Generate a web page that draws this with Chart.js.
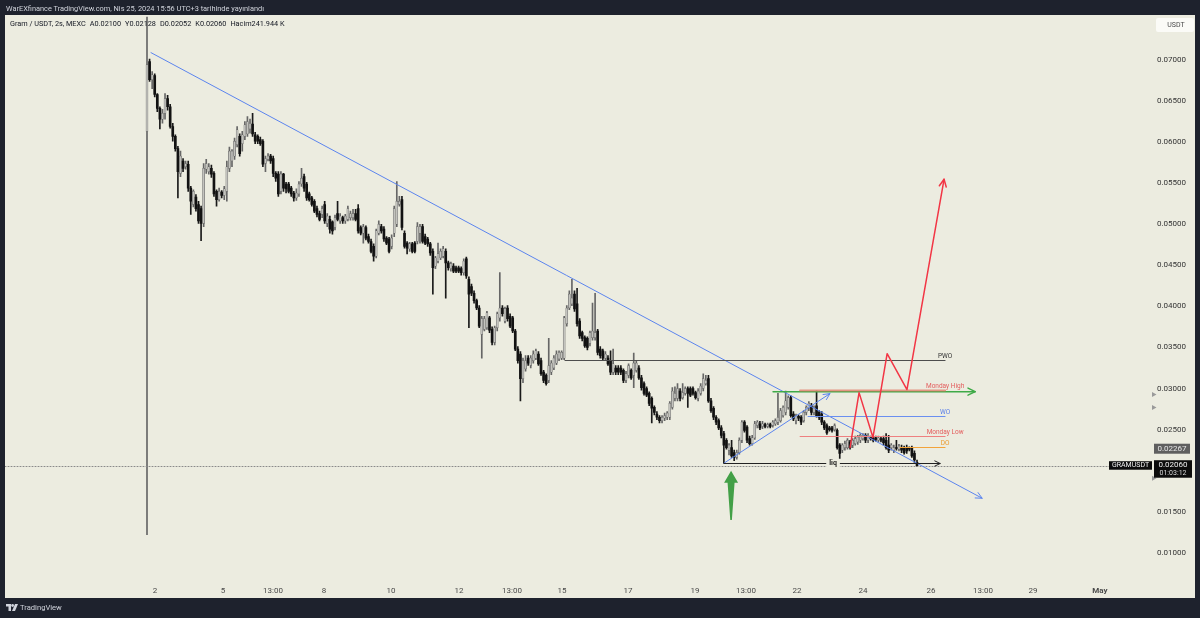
<!DOCTYPE html>
<html><head><meta charset="utf-8">
<script src="https://cdn.jsdelivr.net/npm/chart.js@4.4.1/dist/chart.umd.min.js"></script>
<style>
html,body{margin:0;padding:0;background:#1e222d;width:1200px;height:618px;overflow:hidden;font-family:Roboto,'Liberation Sans',sans-serif;}
#pane{position:absolute;left:5px;top:15px;width:1190px;height:583px;background:#ecece0;}
#wrap{position:absolute;left:0;top:0;width:1200px;height:618px;}
#hdr{position:absolute;left:6px;top:1px;height:15px;line-height:15px;font-size:7.4px;color:#d1d4dc;white-space:nowrap;}
#leg{position:absolute;left:10px;top:18px;line-height:12px;font-size:7.3px;color:#131722;white-space:nowrap;}
#leg span{margin-right:4px;}
#tv{position:absolute;left:6px;top:602px;height:12px;line-height:12px;font-size:7.6px;color:#d1d4dc;white-space:nowrap;}
#tv svg{vertical-align:-1px;margin-right:2px;}
</style></head><body>
<div id="pane"></div>
<div id="wrap"><canvas id="c" width="1200" height="618"></canvas></div>
<div id="hdr">WarEXfinance TradingView.com, Nis 25, 2024 15:56 UTC+3 tarihinde yayınlandı</div>
<div id="leg"><span>Gram / USDT, 2s, MEXC</span><span>A0.02100</span><span>Y0.02128</span><span>D0.02052</span><span>K0.02060</span><span>Hacim241.944 K</span></div>
<div id="tv"><svg width="12" height="7" viewBox="0 0 12 7"><path d="M0 0h5v7h-2.5v-4.5h-2.5z" fill="#d1d4dc"/><circle cx="6.6" cy="1.5" r="1.4" fill="#d1d4dc"/><path d="M9 0h3l-3 7h-3z" fill="#d1d4dc"/></svg>TradingView</div>
<script>
// ---- candle data (2h candles, Gram / USDT, MEXC) ----
const open = [
0.0613,0.0698,0.0676,0.0681,0.0658,0.0641,0.0628,0.0635,0.0653,0.0643,
0.0619,0.0607,0.0592,0.0562,0.0577,0.0570,0.0573,0.0544,0.0524,0.0533,
0.0524,0.0519,0.0501,0.0567,0.0564,0.0568,0.0562,0.0540,0.0530,0.0539,
0.0535,0.0540,0.0568,0.0577,0.0583,0.0597,0.0607,0.0598,0.0607,0.0610,
0.0616,0.0622,0.0609,0.0607,0.0603,0.0601,0.0574,0.0579,0.0583,0.0580,
0.0562,0.0561,0.0540,0.0561,0.0549,0.0549,0.0544,0.0538,0.0532,0.0537,
0.0549,0.0558,0.0549,0.0537,0.0532,0.0528,0.0519,0.0513,0.0512,0.0524,
0.0501,0.0506,0.0503,0.0496,0.0513,0.0504,0.0508,0.0504,0.0506,0.0508,
0.0508,0.0513,0.0519,0.0496,0.0489,0.0496,0.0485,0.0479,0.0473,0.0461,
0.0489,0.0497,0.0494,0.0483,0.0482,0.0473,0.0489,0.0500,0.0524,0.0530,
0.0489,0.0477,0.0470,0.0476,0.0477,0.0479,0.0489,0.0497,0.0485,0.0482,
0.0476,0.0467,0.0449,0.0455,0.0459,0.0461,0.0467,0.0453,0.0446,0.0449,
0.0447,0.0447,0.0446,0.0441,0.0458,0.0433,0.0424,0.0416,0.0407,0.0398,
0.0366,0.0372,0.0374,0.0386,0.0372,0.0356,0.0374,0.0386,0.0398,0.0382,
0.0398,0.0388,0.0386,0.0370,0.0348,0.0342,0.0312,0.0324,0.0337,0.0328,
0.0334,0.0337,0.0342,0.0334,0.0320,0.0316,0.0310,0.0320,0.0325,0.0331,
0.0336,0.0337,0.0337,0.0379,0.0398,0.0403,0.0415,0.0403,0.0382,0.0368,
0.0362,0.0361,0.0355,0.0362,0.0362,0.0370,0.0348,0.0346,0.0337,0.0337,
0.0334,0.0320,0.0325,0.0325,0.0325,0.0322,0.0310,0.0316,0.0322,0.0316,
0.0322,0.0325,0.0313,0.0306,0.0300,0.0294,0.0288,0.0277,0.0269,0.0265,
0.0261,0.0264,0.0265,0.0265,0.0277,0.0288,0.0288,0.0297,0.0289,0.0294,
0.0300,0.0300,0.0300,0.0295,0.0288,0.0294,0.0300,0.0306,0.0312,0.0285,
0.0276,0.0265,0.0261,0.0252,0.0245,0.0237,0.0225,0.0228,0.0222,0.0216,
0.0222,0.0237,0.0259,0.0253,0.0239,0.0233,0.0240,0.0255,0.0257,0.0254,
0.0256,0.0254,0.0256,0.0255,0.0257,0.0259,0.0261,0.0267,0.0271,0.0277,
0.0289,0.0269,0.0261,0.0266,0.0265,0.0261,0.0271,0.0276,0.0279,0.0271,
0.0279,0.0271,0.0269,0.0259,0.0255,0.0252,0.0252,0.0250,0.0249,0.0231,
0.0225,0.0228,0.0228,0.0235,0.0231,0.0233,0.0235,0.0237,0.0239,0.0243,
0.0237,0.0240,0.0240,0.0240,0.0237,0.0239,0.0239,0.0237,0.0231,0.0228,
0.0225,0.0228,0.0226,0.0228,0.0228,0.0228,0.0227,0.0228,0.0221,0.0210];
const high = [
0.0900,0.0701,0.0686,0.0683,0.0659,0.0643,0.0640,0.0659,0.0657,0.0646,
0.0623,0.0609,0.0595,0.0589,0.0580,0.0577,0.0577,0.0546,0.0542,0.0536,
0.0528,0.0522,0.0574,0.0579,0.0574,0.0572,0.0564,0.0542,0.0544,0.0541,
0.0546,0.0577,0.0594,0.0591,0.0605,0.0619,0.0610,0.0613,0.0625,0.0631,
0.0628,0.0635,0.0612,0.0609,0.0606,0.0603,0.0583,0.0586,0.0585,0.0583,
0.0564,0.0564,0.0564,0.0562,0.0551,0.0551,0.0546,0.0540,0.0543,0.0552,
0.0568,0.0561,0.0551,0.0539,0.0534,0.0530,0.0522,0.0516,0.0522,0.0528,
0.0513,0.0510,0.0504,0.0511,0.0528,0.0513,0.0510,0.0512,0.0522,0.0516,
0.0518,0.0518,0.0524,0.0498,0.0500,0.0498,0.0488,0.0482,0.0476,0.0494,
0.0504,0.0500,0.0497,0.0485,0.0484,0.0487,0.0522,0.0552,0.0534,0.0534,
0.0492,0.0479,0.0478,0.0478,0.0479,0.0502,0.0500,0.0500,0.0488,0.0484,
0.0478,0.0470,0.0461,0.0477,0.0470,0.0473,0.0470,0.0455,0.0454,0.0452,
0.0449,0.0449,0.0448,0.0458,0.0460,0.0436,0.0427,0.0419,0.0409,0.0401,
0.0388,0.0388,0.0394,0.0388,0.0375,0.0376,0.0393,0.0441,0.0401,0.0399,
0.0401,0.0391,0.0388,0.0372,0.0351,0.0345,0.0337,0.0340,0.0340,0.0340,
0.0346,0.0348,0.0345,0.0337,0.0322,0.0318,0.0361,0.0334,0.0340,0.0346,
0.0346,0.0346,0.0388,0.0401,0.0419,0.0433,0.0419,0.0422,0.0385,0.0370,
0.0364,0.0363,0.0370,0.0404,0.0416,0.0372,0.0351,0.0348,0.0345,0.0340,
0.0346,0.0348,0.0328,0.0328,0.0328,0.0324,0.0321,0.0330,0.0324,0.0343,
0.0334,0.0328,0.0316,0.0308,0.0302,0.0296,0.0290,0.0279,0.0272,0.0267,
0.0267,0.0270,0.0272,0.0284,0.0301,0.0302,0.0306,0.0300,0.0306,0.0302,
0.0302,0.0302,0.0302,0.0297,0.0300,0.0306,0.0318,0.0316,0.0316,0.0288,
0.0278,0.0267,0.0263,0.0255,0.0248,0.0239,0.0233,0.0237,0.0225,0.0225,
0.0240,0.0261,0.0261,0.0255,0.0242,0.0243,0.0260,0.0261,0.0260,0.0260,
0.0258,0.0258,0.0258,0.0261,0.0263,0.0294,0.0276,0.0279,0.0297,0.0291,
0.0291,0.0272,0.0269,0.0268,0.0267,0.0273,0.0279,0.0284,0.0282,0.0279,
0.0297,0.0273,0.0272,0.0261,0.0257,0.0254,0.0254,0.0257,0.0251,0.0233,
0.0233,0.0236,0.0239,0.0237,0.0239,0.0242,0.0243,0.0245,0.0245,0.0245,
0.0245,0.0242,0.0242,0.0242,0.0242,0.0241,0.0242,0.0245,0.0243,0.0233,
0.0231,0.0237,0.0232,0.0231,0.0230,0.0231,0.0229,0.0230,0.0224,0.02128];
const low = [
0.0122,0.0674,0.0665,0.0655,0.0637,0.0616,0.0623,0.0628,0.0639,0.0617,
0.0601,0.0589,0.0532,0.0558,0.0564,0.0567,0.0540,0.0512,0.0521,0.0516,
0.0501,0.0480,0.0497,0.0562,0.0561,0.0557,0.0534,0.0522,0.0528,0.0532,
0.0530,0.0528,0.0564,0.0570,0.0579,0.0594,0.0583,0.0589,0.0603,0.0607,
0.0611,0.0607,0.0598,0.0598,0.0596,0.0570,0.0564,0.0577,0.0574,0.0558,
0.0552,0.0534,0.0537,0.0540,0.0538,0.0538,0.0534,0.0528,0.0529,0.0534,
0.0546,0.0540,0.0529,0.0528,0.0522,0.0514,0.0509,0.0504,0.0508,0.0501,
0.0497,0.0489,0.0488,0.0493,0.0504,0.0501,0.0501,0.0501,0.0504,0.0505,
0.0505,0.0504,0.0489,0.0487,0.0477,0.0481,0.0477,0.0465,0.0455,0.0459,
0.0487,0.0489,0.0479,0.0475,0.0465,0.0470,0.0485,0.0497,0.0522,0.0493,
0.0471,0.0464,0.0467,0.0465,0.0465,0.0476,0.0477,0.0477,0.0475,0.0473,
0.0462,0.0415,0.0446,0.0453,0.0457,0.0459,0.0410,0.0444,0.0443,0.0441,
0.0441,0.0441,0.0438,0.0438,0.0434,0.0374,0.0413,0.0404,0.0396,0.0374,
0.0337,0.0370,0.0372,0.0368,0.0353,0.0353,0.0370,0.0382,0.0388,0.0380,
0.0382,0.0374,0.0368,0.0346,0.0331,0.0285,0.0307,0.0321,0.0328,0.0325,
0.0331,0.0335,0.0328,0.0316,0.0307,0.0304,0.0307,0.0317,0.0323,0.0329,
0.0334,0.0335,0.0335,0.0376,0.0396,0.0401,0.0394,0.0376,0.0361,0.0358,
0.0350,0.0347,0.0352,0.0359,0.0359,0.0341,0.0337,0.0335,0.0335,0.0328,
0.0317,0.0317,0.0317,0.0317,0.0317,0.0307,0.0307,0.0313,0.0311,0.0301,
0.0320,0.0311,0.0298,0.0292,0.0290,0.0279,0.0258,0.0268,0.0262,0.0258,
0.0258,0.0261,0.0262,0.0262,0.0275,0.0285,0.0285,0.0285,0.0287,0.0292,
0.0277,0.0290,0.0292,0.0287,0.0285,0.0292,0.0297,0.0304,0.0283,0.0271,
0.0262,0.0256,0.0250,0.0240,0.0209,0.0226,0.0219,0.0216,0.0212,0.0214,
0.0220,0.0234,0.0247,0.0234,0.0231,0.0231,0.0238,0.0252,0.0250,0.0251,
0.0252,0.0252,0.0252,0.0253,0.0255,0.0256,0.0259,0.0265,0.0268,0.0275,
0.0265,0.0261,0.0257,0.0261,0.0256,0.0259,0.0268,0.0273,0.0268,0.0268,
0.0265,0.0262,0.0256,0.0250,0.0244,0.0248,0.0247,0.0248,0.0226,0.0215,
0.0222,0.0225,0.0226,0.0226,0.0228,0.0231,0.0232,0.0234,0.0237,0.0234,
0.0234,0.0237,0.0235,0.0236,0.0235,0.0235,0.0231,0.0226,0.0222,0.0225,
0.0222,0.0225,0.0224,0.0222,0.0220,0.0221,0.0224,0.0216,0.0210,0.02052];
const close = [
0.0694,0.0676,0.0682,0.0658,0.0641,0.0628,0.0635,0.0653,0.0643,0.0619,
0.0607,0.0592,0.0564,0.0583,0.0568,0.0574,0.0544,0.0528,0.0540,0.0519,
0.0504,0.0501,0.0568,0.0574,0.0570,0.0561,0.0537,0.0530,0.0540,0.0535,
0.0543,0.0570,0.0589,0.0589,0.0601,0.0615,0.0586,0.0609,0.0621,0.0625,
0.0623,0.0610,0.0601,0.0601,0.0598,0.0573,0.0580,0.0583,0.0577,0.0562,
0.0556,0.0537,0.0561,0.0544,0.0543,0.0540,0.0537,0.0532,0.0538,0.0549,
0.0556,0.0544,0.0532,0.0530,0.0524,0.0516,0.0512,0.0506,0.0519,0.0504,
0.0510,0.0494,0.0492,0.0508,0.0506,0.0510,0.0504,0.0510,0.0519,0.0513,
0.0513,0.0506,0.0492,0.0489,0.0497,0.0483,0.0479,0.0467,0.0461,0.0492,
0.0500,0.0492,0.0482,0.0477,0.0467,0.0483,0.0519,0.0528,0.0528,0.0496,
0.0473,0.0471,0.0476,0.0467,0.0467,0.0497,0.0497,0.0479,0.0477,0.0476,
0.0465,0.0447,0.0459,0.0464,0.0467,0.0470,0.0453,0.0447,0.0452,0.0443,
0.0443,0.0443,0.0441,0.0455,0.0437,0.0415,0.0416,0.0407,0.0398,0.0376,
0.0385,0.0385,0.0392,0.0371,0.0356,0.0374,0.0391,0.0398,0.0391,0.0397,
0.0385,0.0376,0.0370,0.0348,0.0334,0.0312,0.0334,0.0334,0.0331,0.0337,
0.0342,0.0346,0.0330,0.0318,0.0310,0.0306,0.0328,0.0331,0.0337,0.0342,
0.0344,0.0344,0.0386,0.0398,0.0415,0.0410,0.0397,0.0379,0.0364,0.0361,
0.0352,0.0350,0.0368,0.0370,0.0368,0.0344,0.0340,0.0337,0.0342,0.0330,
0.0320,0.0330,0.0320,0.0320,0.0320,0.0310,0.0318,0.0328,0.0313,0.0331,
0.0331,0.0313,0.0301,0.0294,0.0292,0.0282,0.0276,0.0271,0.0265,0.0261,
0.0265,0.0267,0.0270,0.0282,0.0297,0.0294,0.0300,0.0288,0.0295,0.0300,
0.0294,0.0292,0.0294,0.0289,0.0297,0.0303,0.0312,0.0310,0.0285,0.0273,
0.0265,0.0259,0.0252,0.0243,0.0231,0.0228,0.0231,0.0218,0.0216,0.0222,
0.0237,0.0259,0.0249,0.0237,0.0233,0.0240,0.0257,0.0259,0.0252,0.0257,
0.0254,0.0256,0.0254,0.0259,0.0261,0.0265,0.0273,0.0277,0.0285,0.0289,
0.0267,0.0263,0.0267,0.0264,0.0259,0.0271,0.0277,0.0282,0.0271,0.0277,
0.0267,0.0265,0.0259,0.0252,0.0246,0.0250,0.0249,0.0255,0.0228,0.0221,
0.0231,0.0233,0.0237,0.0228,0.0237,0.0239,0.0241,0.0243,0.0243,0.0237,
0.0243,0.0239,0.0237,0.0238,0.0240,0.0237,0.0234,0.0228,0.0225,0.0231,
0.0228,0.0227,0.0230,0.0225,0.0222,0.0224,0.0226,0.0218,0.0213,0.0206];

// ---- axis ticks (x in candle-index units) ----
const xTickLabels = ['2','5','13:00','8','10','12','13:00','15','17','19','13:00','22','24','26','13:00','29','May'];
const xTickPos = [3.11,29.51,48.93,68.73,94.75,121.15,141.73,161.15,186.77,212.79,232.59,252.40,278.02,304.43,324.62,344.04,370.05];
const xRange = [-55.14, 387.53];
const yTicks = [0.07,0.065,0.06,0.055,0.05,0.045,0.04,0.035,0.03,0.025,0.02,0.015,0.01];
const yRange = [0.006687, 0.075255];

// ---- drawings (candle index, price) ----
const downTrend = [[1.55, 0.07089], [324.3, 0.01664]];
const upTrend = [[224, 0.0209], [265.2, 0.02938]];
const levelNames = ['PWO','Monday High','WO','Monday Low','DO'];
const levelPrices = [0.03351, 0.02987, 0.02671, 0.02416, 0.02283];
const levelStart = [162.3, 253.6, 256.7, 253.6, 292.4];
const levelEnd = 309.9;
const mondayArrow = {from: 243.1, to: 321.6, price: 0.02962};
const liqLine = {from: 224, to: 308, price: 0.0209, labelAt: 266.4, text: 'liq'};
const zigIdx = [273.0, 276.5, 281.9, 287.4, 295.1, 309.5];
const zigPrice = [0.02283, 0.02950, 0.02404, 0.03424, 0.02987, 0.05547];
const greenArrow = {at: 226.8, tip: 0.0200, tail: 0.0140};
const markPrice = 0.02267;
const sideMarks = [0.02926, 0.02768, 0.01906];
const symbol = 'GRAMUSDT', countdown = '01:03:12';

const idx = open.map((_, i) => i);
const isUp = idx.map(i => close[i] >= open[i]);

const levelColor = {'PWO':'#4d4d4d','Monday High':'rgba(226,120,100,0.75)','WO':'#6a8ff0','Monday Low':'#ee8080','DO':'#f2a33a'};
const levelText = {'PWO':'#333333','Monday High':'#e35d5d','WO':'#5a7fe8','Monday Low':'#e35d5d','DO':'#eb9a2c'};

function seg(ctx,x1,y1,x2,y2){ctx.beginPath();ctx.moveTo(x1,y1);ctx.lineTo(x2,y2);ctx.stroke();}
function head(ctx,x1,y1,x2,y2,s){const a=Math.atan2(y2-y1,x2-x1);ctx.beginPath();ctx.moveTo(x2-s*Math.cos(a-0.45),y2-s*Math.sin(a-0.45));ctx.lineTo(x2,y2);ctx.lineTo(x2-s*Math.cos(a+0.45),y2-s*Math.sin(a+0.45));ctx.stroke();}
const snap = v => Math.round(v) + 0.5;

const drawings = {
  id: 'drawings',
  afterDatasetsDraw(chart) {
    const {ctx, chartArea: a, scales: {x, y}} = chart;
    const X = v => x.getPixelForValue(v), Y = v => y.getPixelForValue(v);
    ctx.save();
    ctx.beginPath(); ctx.rect(a.left, a.top, a.right - a.left, a.bottom - a.top); ctx.clip();
    ctx.lineCap = 'round'; ctx.lineJoin = 'round';
    // last price dotted line
    const yc = snap(Y(close[close.length - 1]));
    ctx.setLineDash([1, 2]); ctx.strokeStyle = '#8a8a8a'; ctx.lineWidth = 1;
    seg(ctx, a.left, yc, a.right, yc); ctx.setLineDash([]);
    // trend lines
    ctx.strokeStyle = '#5b84ee'; ctx.lineWidth = 1;
    let p1 = [X(downTrend[0][0]), Y(downTrend[0][1])], p2 = [X(downTrend[1][0]), Y(downTrend[1][1])];
    seg(ctx, p1[0], p1[1], p2[0], p2[1]); head(ctx, p1[0], p1[1], p2[0], p2[1], 7);
    p1 = [X(upTrend[0][0]), Y(upTrend[0][1])]; p2 = [X(upTrend[1][0]), Y(upTrend[1][1])];
    seg(ctx, p1[0], p1[1], p2[0], p2[1]); head(ctx, p1[0], p1[1], p2[0], p2[1], 7);
    // monday high green arrow
    ctx.strokeStyle = '#3faa48'; ctx.lineWidth = 1.5;
    const ym = Y(mondayArrow.price);
    seg(ctx, X(mondayArrow.from), ym, X(mondayArrow.to), ym); head(ctx, X(mondayArrow.from), ym, X(mondayArrow.to), ym, 8);
    // levels
    ctx.font = '6.5px Roboto'; ctx.textAlign = 'center'; ctx.textBaseline = 'bottom';
    levelNames.forEach((n, i) => {
      const yy = snap(Y(levelPrices[i]));
      ctx.strokeStyle = levelColor[n]; ctx.lineWidth = n === 'Monday High' ? 2 : 1;
      seg(ctx, X(levelStart[i]), yy, X(levelEnd), yy);
      ctx.fillStyle = levelText[n]; ctx.fillText(n, X(levelEnd), yy - 1);
    });
    // liq line
    const yl = snap(Y(liqLine.price));
    ctx.strokeStyle = '#222'; ctx.lineWidth = 1;
    seg(ctx, X(liqLine.from), yl, X(liqLine.to), yl); head(ctx, X(liqLine.from), yl, X(liqLine.to), yl, 6);
    ctx.font = 'bold 7px Roboto'; ctx.textBaseline = 'middle';
    const tw = ctx.measureText(liqLine.text).width;
    ctx.fillStyle = '#ecece0'; ctx.fillRect(X(liqLine.labelAt) - tw / 2 - 3, yl - 4, tw + 6, 8);
    ctx.fillStyle = '#1a1a1a'; ctx.fillText(liqLine.text, X(liqLine.labelAt), yl);
    // red zigzag projection
    ctx.strokeStyle = '#f23645'; ctx.lineWidth = 1.5;
    ctx.beginPath(); zigIdx.forEach((v, i) => { const px = X(v), py = Y(zigPrice[i]); i ? ctx.lineTo(px, py) : ctx.moveTo(px, py); }); ctx.stroke();
    const n = zigIdx.length - 1;
    head(ctx, X(zigIdx[n - 1]), Y(zigPrice[n - 1]), X(zigIdx[n]), Y(zigPrice[n]), 8);
    // green up arrow
    const gx = X(greenArrow.at), gt = Y(greenArrow.tip), gb = Y(greenArrow.tail);
    ctx.fillStyle = '#43a047';
    ctx.beginPath();
    ctx.moveTo(gx, gt); ctx.lineTo(gx + 7, gt + 12); ctx.lineTo(gx + 3.5, gt + 12);
    ctx.lineTo(gx + 0.8, gb); ctx.lineTo(gx - 0.8, gb); ctx.lineTo(gx - 3.5, gt + 12); ctx.lineTo(gx - 7, gt + 12);
    ctx.closePath(); ctx.fill();
    ctx.restore();
  },
  afterDraw(chart) {
    const {ctx, chartArea: a, scales: {y}} = chart;
    const Y = v => y.getPixelForValue(v);
    ctx.save();
    ctx.font = '7px Roboto'; ctx.textAlign = 'center'; ctx.textBaseline = 'middle';
    // USDT unit box
    ctx.fillStyle = '#fbfbf7'; ctx.beginPath(); ctx.roundRect(1156, 18, 38, 14, 2); ctx.fill();
    ctx.fillStyle = '#4a4a4a'; ctx.fillText('USDT', 1176, 25.5);
    // side marks
    ctx.fillStyle = '#9a9a9a';
    sideMarks.forEach(p => { const yy = Y(p); ctx.beginPath(); ctx.moveTo(1152, yy - 2.5); ctx.lineTo(1156.5, yy); ctx.lineTo(1152, yy + 2.5); ctx.closePath(); ctx.fill(); });
    // mark price box
    const yb = Y(markPrice);
    ctx.fillStyle = '#5f5f5f'; ctx.fillRect(1154, yb - 5, 36, 10);
    ctx.font = '8px Roboto'; ctx.fillStyle = '#e6e6e6'; ctx.fillText(markPrice.toFixed(5), 1172, yb + 0.5);
    // current price boxes
    const last = close[close.length - 1], yc = Y(last);
    ctx.fillStyle = '#0c0c0c';
    ctx.fillRect(1109, yc - 4.5, 43, 8.5);
    ctx.fillRect(1154, yc - 5.5, 38, 17.5);
    ctx.fillStyle = '#f0f0f0'; ctx.font = '7px Roboto';
    ctx.fillText(symbol, 1130.5, yc);
    ctx.font = '8px Roboto';
    ctx.fillText(last.toFixed(5), 1173, yc - 0.5);
    ctx.font = '7px Roboto'; ctx.fillStyle = '#d8d8d8';
    ctx.fillText(countdown, 1173, yc + 7.5);
    ctx.restore();
  }
};

Chart.defaults.font.family = 'Roboto, "Liberation Sans", sans-serif';
new Chart(document.getElementById('c'), {
  type: 'bar',
  data: {
    datasets: [
      {
        label: 'body', order: 1, grouped: false, clip: 0, barThickness: 2, minBarLength: 1,
        data: idx.map(i => ({x: i, y: [open[i], close[i]]})),
        backgroundColor: c => isUp[c.dataIndex] ? '#c3c3be' : '#121212',
        borderColor: c => isUp[c.dataIndex] ? '#5e5e5e' : '#121212',
        borderWidth: c => isUp[c.dataIndex] ? 0.5 : 0,
        borderSkipped: false
      },
      {
        label: 'wick', order: 2, grouped: false, clip: 0, barThickness: 1,
        data: idx.map(i => ({x: i, y: [low[i], high[i]]})),
        backgroundColor: c => isUp[c.dataIndex] ? '#666666' : '#1a1a1a',
        borderWidth: 0
      }
    ]
  },
  options: {
    responsive: false, animation: false, devicePixelRatio: 1,
    layout: {padding: {left: 5, top: 15, right: 5, bottom: 20}},
    plugins: {legend: {display: false}, tooltip: {enabled: false}},
    scales: {
      x: {
        type: 'linear', min: xRange[0], max: xRange[1], offset: false,
        grid: {display: false, drawTicks: false, offset: false}, border: {display: false},
        afterBuildTicks: s => { s.ticks = xTickPos.map(v => ({value: v})); },
        afterFit: s => { s.height = 18; },
        ticks: {
          autoSkip: false, maxRotation: 0, padding: 6, color: '#4a4a4a',
          font: c => ({size: 8, weight: xTickLabels[c.index] === 'May' ? 'bold' : 'normal'}),
          callback: (v, i) => xTickLabels[i]
        }
      },
      y: {
        type: 'linear', position: 'right', min: yRange[0], max: yRange[1],
        grid: {display: false, drawTicks: false}, border: {display: false},
        afterBuildTicks: s => { s.ticks = yTicks.map(v => ({value: v})); },
        afterFit: s => { s.width = 50; },
        ticks: {padding: 12, color: '#333333', font: {size: 8}, callback: v => v.toFixed(5)}
      }
    }
  },
  plugins: [drawings]
});
</script>
</body></html>
